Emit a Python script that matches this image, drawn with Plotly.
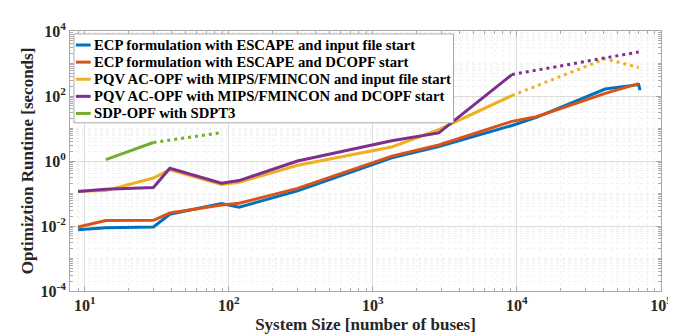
import plotly.graph_objects as go

# ---------------- data ----------------
bus_sizes = [9, 14, 30, 39, 89, 118, 300, 1354, 2869, 9241, 13659, 41000, 70000]

ecp_input_buses = [9, 14, 30, 39, 89, 118, 300, 1354, 2869, 9241, 13659, 41000, 70000, 71500]
ecp_input_runtime = [0.0077, 0.0089, 0.0093, 0.023, 0.049, 0.038, 0.12, 1.26, 2.8, 12.4, 22, 164, 225, 150]

ecp_dcopf_runtime = [0.0093, 0.0147, 0.015, 0.025, 0.044, 0.05, 0.144, 1.41, 3.1, 16.6, 23, 121, 240]

pqv_input_runtime = [0.117, 0.123, 0.30, 0.54, 0.19, 0.22, 0.74, 2.7, 9.2, 103, None, None, None]
pqv_input_extrap = [None, None, None, None, None, None, None, None, None, 103, None, 1400, 755]

pqv_dcopf_runtime = [0.115, 0.134, 0.154, 0.60, 0.207, 0.25, 1.0, 4.2, 7.3, 457, None, None, None]
pqv_dcopf_extrap = [None, None, None, None, None, None, None, None, None, 457, None, 1500, 2260]

sdp_runtime = [None, 1.1, 3.7, None, None, None, None, None, None, None, None, None, None]
sdp_extrap = [None, None, 3.7, None, 7.5, None, None, None, None, None, None, None, None]

names = [
    "ECP formulation with ESCAPE and input file start",
    "ECP formulation with ESCAPE and DCOPF start",
    "PQV AC-OPF with MIPS/FMINCON and input file start",
    "PQV AC-OPF with MIPS/FMINCON and DCOPF start",
    "SDP-OPF with SDPT3",
]
colors = ["#0072BD", "#D95319", "#EDB120", "#7E2F8E", "#77AC30"]

y_tick_vals = [1e-4, 1e-2, 1, 1e2, 1e4]
y_tick_text = ["10<sup>-4</sup>", "10<sup>-2</sup>", "10<sup>0</sup>", "10<sup>2</sup>", "10<sup>4</sup>"]
x_tick_vals = [10, 100, 1000, 10000, 100000]
x_tick_text = ["10<sup>1</sup>", "10<sup>2</sup>", "10<sup>3</sup>", "10<sup>4</sup>", "10<sup>5</sup>"]

# ---------------- figure ----------------
LW = 3
fig = go.Figure()

series = [
    (ecp_input_buses, ecp_input_runtime, colors[0]),
    (bus_sizes, ecp_dcopf_runtime, colors[1]),
    (bus_sizes, pqv_input_runtime, colors[2]),
    (bus_sizes, pqv_dcopf_runtime, colors[3]),
    (bus_sizes, sdp_runtime, colors[4]),
]
for (xs, ys, c), nm in zip(series, names):
    fig.add_trace(go.Scatter(x=xs, y=ys, mode="lines", name=nm, showlegend=False,
                             connectgaps=True, line=dict(color=c, width=LW)))

# dotted extrapolations
for ys, c in [(pqv_input_extrap, colors[2]), (pqv_dcopf_extrap, colors[3]), (sdp_extrap, colors[4])]:
    fig.add_trace(go.Scatter(x=bus_sizes, y=ys, mode="lines", showlegend=False, connectgaps=True,
                             line=dict(color=c, width=LW, dash="3px,4px")))

serif = "Liberation Serif"
minor_x = [m * 10 ** d for d in range(0, 5) for m in range(2, 10)]
minor_y = [m * 10.0 ** d for d in range(-4, 4) for m in range(1, 10) if not (m == 1 and d % 2 == 0)]

axis_common = dict(
    type="log",
    showline=True, linecolor="#a8a8a8", linewidth=1, mirror="ticks",
    ticks="inside", ticklen=5, tickcolor="#a8a8a8",
    showgrid=True, gridcolor="#dedede", gridwidth=1,
    zeroline=False,
    tickfont=dict(family=serif, size=16, color="#262626", weight="bold"),
)

fig.update_xaxes(
    **axis_common,
    range=[0.898, 5],
    tickmode="array", tickvals=x_tick_vals, ticktext=x_tick_text,
    minor=dict(tickmode="array", tickvals=minor_x, ticks="inside", ticklen=3, tickcolor="#a8a8a8",
               showgrid=True, gridcolor="#f1f1f1", griddash="dot"),
    title=dict(text="System Size [number of buses]", standoff=4,
               font=dict(family=serif, size=17, color="#262626", weight="bold")),
)
fig.update_yaxes(
    **axis_common,
    range=[-4, 4],
    tickmode="array", tickvals=y_tick_vals, ticktext=y_tick_text,
    minor=dict(tickmode="array", tickvals=minor_y, ticks="inside", ticklen=3, tickcolor="#a8a8a8",
               showgrid=True, gridcolor="#f1f1f1", griddash="dot"),
    title=dict(text="Optimiztion Runtime [seconds]", standoff=2,
               font=dict(family=serif, size=17, color="#262626", weight="bold")),
)

# ---------------- legend (box, samples, labels) in paper coordinates ----------------
L, T, W, H = 62, 17, 601, 269
def px(xp):
    return (xp - L) / W
def py(yp):
    return (T + H - yp) / H

shapes = [dict(type="rect", xref="paper", yref="paper",
               x0=px(66), x1=px(452), y0=py(112), y1=py(20),
               line=dict(color="#a8a8a8", width=1), fillcolor="white", layer="above")]
annotations = []
row_y = [31.5, 49.2, 66.9, 84.6, 102.3]
for nm, c, yy in zip(names, colors, row_y):
    shapes.append(dict(type="line", xref="paper", yref="paper",
                       x0=px(68), x1=px(83), y0=py(yy), y1=py(yy),
                       line=dict(color=c, width=3), layer="above"))
    annotations.append(dict(text=nm, xref="paper", yref="paper", x=px(84.5), y=py(yy),
                            xanchor="left", yanchor="middle", showarrow=False,
                            font=dict(family=serif, size=14.7, color="black", weight="bold")))

fig.update_layout(
    width=676, height=334,
    margin=dict(l=L, r=676 - L - W, t=T, b=334 - T - H),
    paper_bgcolor="white", plot_bgcolor="white",
    showlegend=False,
    shapes=shapes, annotations=annotations,
)

fig.write_html("out.html")
